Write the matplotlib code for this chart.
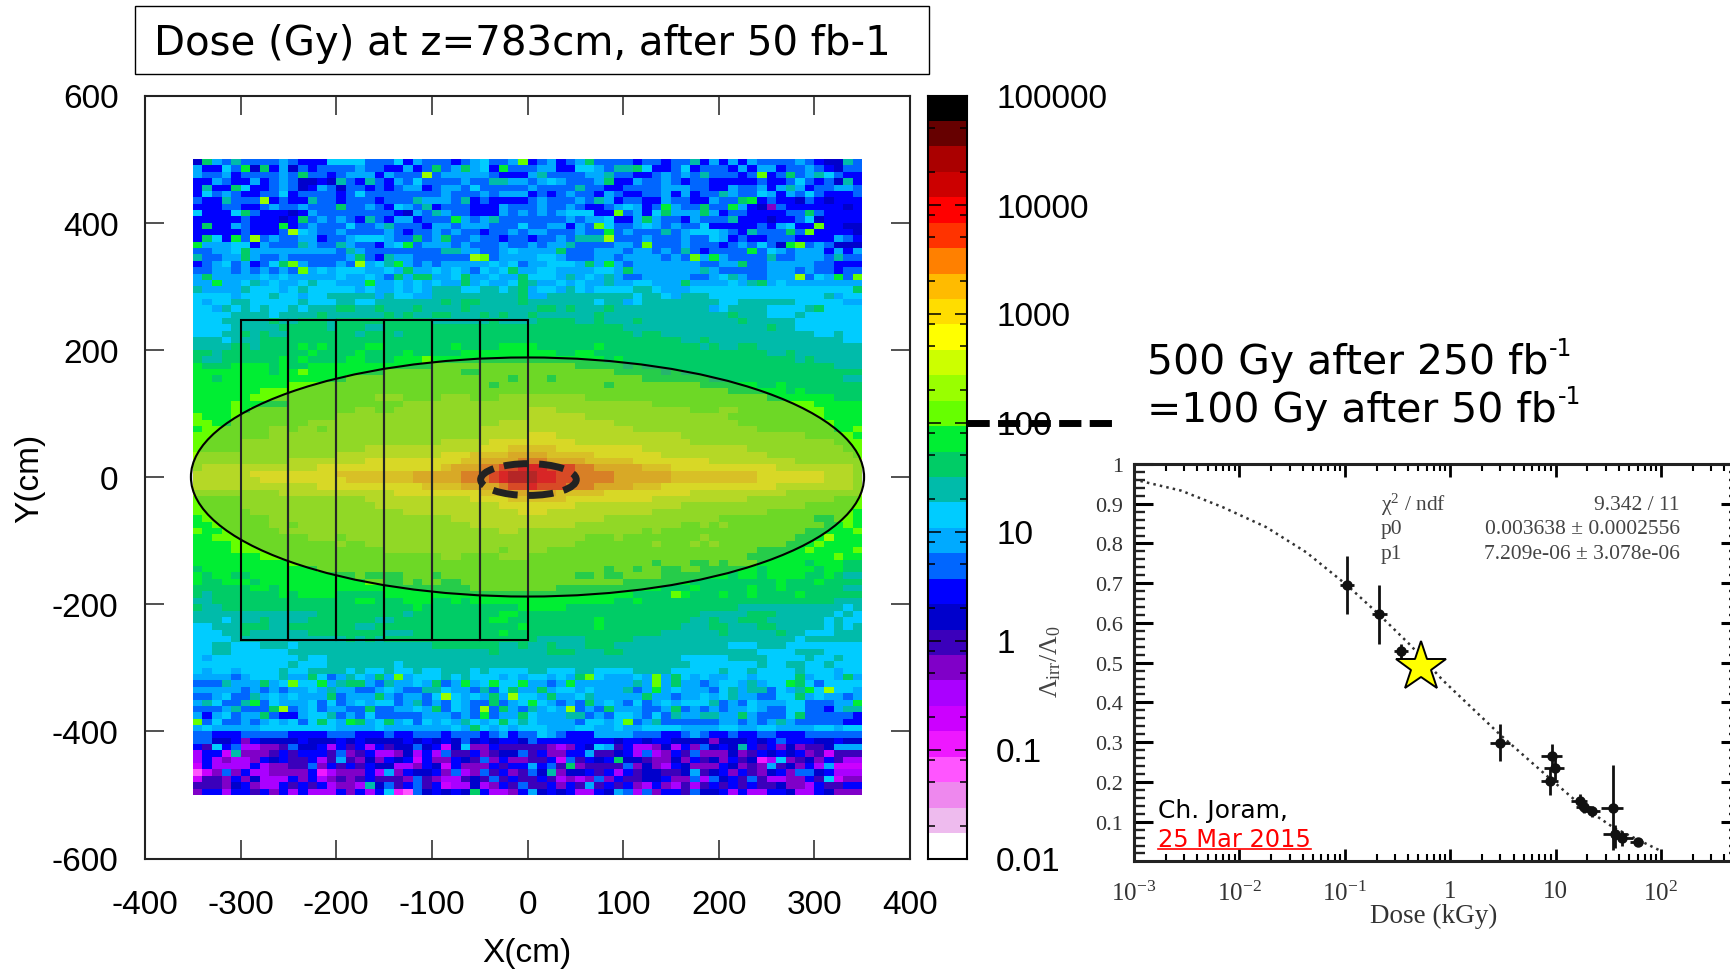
import numpy as np
import matplotlib
matplotlib.use('Agg')
import matplotlib.pyplot as plt
import matplotlib.ticker
from matplotlib.colors import ListedColormap, BoundaryNorm
from matplotlib.patches import Ellipse, Rectangle
from matplotlib.lines import Line2D

plt.rcParams['font.family'] = ['Liberation Sans', 'DejaVu Sans']
plt.rcParams['axes.unicode_minus'] = False

W, H = 1730, 970

# colour bands of the palette, lowest dose first
band_colors = ['#ffffff', '#eebbee', '#ee88ee', '#ff55ff', '#ee18ff', '#cc00ff', '#aa00ff', '#8000c8',
               '#3b00bb', '#0000cc', '#0000ff', '#0066ff', '#00aaff', '#00ccff', '#00bbaa', '#00cc66',
               '#00ee33', '#66ff00', '#99ff00', '#ccff00', '#ffff00', '#ffdd00', '#ffbb00', '#ff8000',
               '#ff3300', '#ff0000', '#cc0000', '#aa0000', '#660000', '#000000']
band_keys = '0123456789abcdefghijklmnopqrst'

# dose band of every 10x10 cm cell, top row first, x=-350..0 | x=0..350
dose_rows = [
 '9fcbebbbbcbaaaddddbbbdacbbbabcdbbch abcabcfbbbbabbabbeacacacbbbbcba99eb',
 'caadbg9fac9babbbbcbbaacabfbcfcdagbb bccaaddcbeefdaabdabbbacaccabbcba9bb',
 'cbbcabbbbcbfbbabcccacbbbibcccccbaaa cebbbbccebbaabcbcbebbbabhabfbcedbaa',
 'aacbaacabcb99a9ebaebacbdbbbbcbbeec bcdcbbbcfaacbbcbabbaaaaabaabdbab9ea',
 'aeaafdaabcb9acb9bbababccabccbdbbbb cbbbbebbaabbbbcccbbaacbbcacecabbccb',
 'adbcbaabbdabbbbabdbbbbbbbbcbbbcbcc ababcbbacbaabbcacabbecbbdcacbdbaaabi',
 'baaebbbiabaaebbabbbabbbecccbeabaaa bcbbbcbecabbaacbbaacbbfgabaa9ba9aaa',
 'aaabbaabcbbcbbbfbbcbadcbeabbbaaacbb bcbbcbaabcdcabgcbbfbbgca97baaaaaa9a',
 'daaadfbaaa9acbbbbbbbba9cbecbbaaacbc bcbcdddaahbcadfcccfcabbaaaabbfbaaa',
 'aaaaabaaa9afbcbcbaebaccabbbgcbcebb bbbbcbccdaacfcbbacbbbeaaa9aabd9aaa',
 'afaacbaaagabcbbbdbbcebbbaccbcccbbbd bbccacbhdbbcdcbcbbdaaaaabacdaahaa9',
 'aaaaabaaabidcbbcbbbbcbabbcbcbbabbcb ccbbbcbbgbcbbbebcdddcbaebbbfbhaaaa9',
 'afdagbibcbbccabbcdddcbbfbcfbbcbbabb abbcbeeeibbbcbbbcbbdcabaabbbaaaacba',
 'gcccddacbbbecbbecbbacdgbcccbcbbbcbbb cbccebbbbccbhbbbcbbbabcbdb9ghbcb9',
 'bbccdfcccccccccbecbbbbbbbbeeccbbcdc cccfbbbcccbccbcbebabbbbgbdcbcccacac',
 'ebbccfcbbcbbbbbbcfbaeccbbbbbbihbccc cddcbbbccbccccbcbhcgcbbbbebbcccbeb',
 'abcdbcabdfhcbbbcbicdegcbcbcccccdcdb ccdddcfcgcbcccccccbbccfbbcccccbbaa',
 'bbccbcbcbcbhcdcdddccdcfccdcdcbdcdfcc cddccccddcfcccccccecbbbbbcccbcbbab',
 'cfcccccdcdcccccdccdcbfcffccdfccdccf dddcecdcecbbcccccbbcdecbbcccibdcgbh',
 'ccgccdecdccdeddcccgccdcdcdccfcdccdf eccdcdcceccddcccfccccdcefcdccccccc',
 'eccccedddcdedddddcdccdcdceeeddeedef cddcedcddddeedcccdddddddddddddddddf',
 'ddddcdddeddcddeeeeeceddcceeeeeeeeef cceeeeeeeeedeedceeeddddddddddddecdd',
 'dcddeedddddedddeeddeeeeeeefeffeeeef eeeeeeedeecdeeeeeeeeddeeeeeedddddc',
 'ddcedededdedeeeffeefeeefeeeefeeeeee effefeeefeeeeeeeeeecdeeeeddddefddd',
 'ddddeeeedeeeefeeeeeefefeeffeeefefee feeeeeefeeeeeeeeeeeeefeeedddeddddd',
 'dddeeeeefeefffeffffffffffeeeeeefeee effffeefeeefeeeeeeeeeefeeeeedddddd',
 'ddddeeeeefffffefffeefffffffffffffff ffffffffffeeeeeeeeeeeeeeefeedddddd',
 'dddeefefeefffffffefffeffffffffffffff fffffffffffeffeeeeeeeeeeeeeeeedded',
 'eeedeeefffffffffffffffffffffffffffff ffffffffffffffffeefeeeeeeeeeeeeeed',
 'eeeeffeffffgfgffffggfffffffgffffggg gffffffgffffffffffefeeffeeeeeeeeeee',
 'ffefffffffffgffffgffffgfffffggggggg gggffggffffffffffffffffffeefeeeeeee',
 'feeffffffgfgffffggfffggghggggggggggg ggggggggfgffffffffffffffffffefeeee',
 'gfffggggfgffggggggggggggghhhhhhhhhhh hhhhhgggggfgffffffffffffffffffffee',
 'ggggggggfgghgggggggghhhhhhhhgghhhhhh hhhhhhhhhgggggfgffffffffffffffffff',
 'ggfggggggggggggghhhhhhhhhhhhhhhhhghh hhghhhhhhhhhgggggggffffffffffffffe',
 'gggggggggghhhhhhhhhhhhhhhhhhhhhghhhh hhhhhhhhghhhhhhhhhggggggffgfffffff',
 'ggggggghhhhhhhhhhhhhhhhhhhhhhhhhhhhh hhhhhhhhhhhhhhhhhhhhhggggggfgffff',
 'gggggghhhhhhhhhhhhhiiihhhhiiihhhiiii iiiiiihhhhhhhhhhhhhhhhhhhgggggggf',
 'gggghggggghhhhhhhhhhhhiiiiiiiiiiiii iiiiiiiiiiiiihhhhhhhhhhhhhhhhhggggg',
 'gggghghhhhhhhhhhhiihhiiiiiiiiiiiiii jjjiiiiiiiiiiiiiihhhiihhhhhhhhhgggg',
 'hggghhhhhhhhhhhiiiiiiiiiiiiiiiiiiii jjjjjjiiiiiiiiiiiiiiihhhhhhhhhhgggg',
 'hhgghhhhhhhhiiiiiiiiiiiiiiiiiiiijjj jjjjjjjjjiiiiiiiiiiiiihhhhhhhhhhggg',
 'ghhhhhhhiihiihiiiiiiiiiiiiiiiijjjjj jjjjjjjjjjjiiiiiiiiiiiiihhhhhhhhggh',
 'hhhhhhhhiiiiiiiiiiiiiiiiiiiiiijjjjj kkkjjjjjjjjjjjjjiiiiiiiiiiiiihhhhhg',
 'hhhhhiiiiiiiiiiiiiiiiiiiiijjjjjkkkk kkkkkjjjjjjjjjjjjiiiiiiiiiiiiiiihhh',
 'hhhhhiiiiiiiiiiiiijjjjjjjjjjjjkkkll lllkkkkkkkkkjjjjjjjjjjjiiiiiiiiiihh',
 'iiiiiiiiiiiiiiijjjjjjjjjjjkkkllllmm mmlllllkkkkkkkjjjjjjjjjjjiiiiiiiiih',
 'iiiiiiiiiijjjjjjjjkkkkkkkkkkllmmmmn nnmmmmlllllkkkkkkkkjjjjjjjjjiiiiiii',
 'ijjjjjjjjjjjjkkkkkkkkkkkkklmmmnnoop ppooonnmmmmmlllkkkkkkkkkkkjjjjjjjji',
 'jjjjjjkkkkkkkkkllllllllmmmmmnnnopqq qppoonnnnmmmmmmlllllllllkkkkkkkjjji',
 'jjjjjjjkkkkkkkkklllllllmmmmmnnnopqq qppoonnnnmmmmmmlllllllllkkkkkkkjjji',
 'jjjjjjjjjjjjjkkkkkkkkkkkllllmmmmnoo pooonnnmmmmlllkkkkkkkkkkkkjjjjjjjji',
 'iiiiiiiiijjjjjjjjjjjjkkkkkkkkklllmm mmmlllllkkkkkkkkkjjjjjjjjjjiiiiiiii',
 'hhhhhiiiiiiiiiiiiijjjjjjjjjjjkkkkll llllkkkkkkkkkjjjjjjjjjjiiiiiiiiihhh',
 'hhhhhiiiiiiiiiiiiiijjjjjjjjjjjjjkkk kkkkkjjjjjjjjjjjiiiiiiiiiiiiihhhhhh',
 'hhhhhhiiiiiiiiiiiiiiiijjjjjjjjjjjjk kkjjjjjjjjjjjiiiiiiiiiiiihhhhhhhhhg',
 'ghhhhhhhiiiiiiiiiiiiiiiiiiijjjjjjjj jjjjjjjjiiiiiiiiiiiihhhhhhhhhhgghhg',
 'gghhhhhhiihiiiiiiiiiiiiiiiiiijjjjjj jjjjjiiiiiiiiiiihhihihhhhhhhhhhgghg',
 'hgghhhhhhiiiiiiiiiiiiiiiiiiiiiiijji iiiiiiiiiiiihihhhhhhhhhhhhhhhgggggh',
 'gghhhhhhhhhhiiihiiiiiiiiiiiiiiiiiii iiiiiihhhihhhhhhhhihhhhhhhhhgggiggg',
 'gggghhhhhhhhhhhihhiiiiiiiiiiiiiiiii iiiiihhhhhhhhihhhihihhhhhhhggghgggg',
 'gggghhhhhhhhhhhhhhhhiiiiiiiiiiiihii iihhhhhhhhhhhhhhhhhhhhhhggggghggggh',
 'ggggggghhhhhhhhhhhhhhhhhhhiihhhhiii hhhhhhhhhhhhhhhhhhhhhhhggggggggghg',
 'gggggggggghhhhhhhhhhhhhhhhhhhhhhhhh hhhhhhhhhhhhhghhhgghghhhgggggfgggf',
 'fgggggggggggghhhhhhhhhhhhhhhhhhhhhh hhhhhhhhghhghhgghhggggggfgggggfggf',
 'gfggffggggggggggghgggghhhghhhhhhhhh hhhhhgghgghhhhgggggggfggfggggffgfe',
 'gffgggfggggggggggghhgghghhgghhhhhhh hhhhhhhhhhgggggggfffffffffgfffgfff',
 'ffffffggfgggggggggggggggggggghhhhhh hhhgggggggggggfffgfffffgffgffffffee',
 'fefffffffgfggggfffffgggggggggggggg gggggggggggffffhgfffgffgffffgffffffe',
 'eefffffffffffffffggfffgggffgfgggggg gggggggggffgffffffffffffffffffffeee',
 'feeffffffffffffffffffffgffffffffffg ggggffffffffffffffffffeeeeeeeeeeede',
 'eeeeeeeeeeeeefffffffffefffffffffggf ffffffffffffffffffeeeeefffeeeeeeded',
 'eeedeeefeeeefffffffeeffffffffffggff fffffffgfffffffffeefeefffeeeeeededd',
 'ddeeefffeefffffffeefffffffffffffffg fffffffgffffffffeeeffeeeffeeeeededee',
 'dddeefeeeeeeffffffffeeefffffffffgff ffffffffffffffeeeeeefeeeeefeedddeee',
 'ddddeeeeeeeeeeeefefefffffffffffffff feeeeefffffeeeeeeeeeeeeeeeeedeeeeee',
 'ddeedddeeedeeeeeeeeeeeeeefffffffeef eefeeefffeeeeeeeeeeeedddeeedddddddd',
 'ddeeddddddeeeeeeeeeeeeeeeeeeeeefeee eefffeeeffeeeeeeeeeeeeeeddddeeeddddd',
 'dcdddddddddeddeeeeeeeeeeeeeeeeeeeee eeeeeeeeeeeeeeeedddddeeeeddddeddedd',
 'ddddddddddedddeeeeeeedeeeeeeeeeeeee eeeeeeeeeeeeeeeeedddddddeddeeddedd',
 'dcddcddddeddeeeededdeddeddeeededddd eedddeeddddeeeedddddeddeddddedddcdde',
 'ccccbcdddeccfdbcedcfchcdddededddcdc ddcdcfhdcccdchcfdcdccddcddddfcddcfc',
 'bbbecccfcdhddgceffcbeccdcfbcgcdgddg ccbcgccccccechcfccbcddcecddgfdbddd',
 'cccccbcbcbccdceccbbcdcbbeedccbebdfc cfcddcdcccebcgcdcccbdeceebdcegdiddc',
 'bbcdbbecdcdcccfbcccfcbccbdidcdcfcid dcfccdecccccfccbccdcdeccbbddfcdccbc',
 'cedbbegbdcccdbdbcdcddbcebcbdcbbfbcd gdcbcbfcdcbdbcdcdddebcbdcccddbbbccg',
 'bbbcebbbfibcdbccbbfbbccdcfbdcbibfcb ecdcibcbfcccbbcfbcbcbccdcbbddbbace',
 'cacdbccfbaacddebcbdbbbbbcccbcbgbccf dccceebcbddcbdbecceeccfcbbbdfbbbbba',
 'hbdbbcbcdcdbdfdcgfcdfcdbdcdcedcdfde dccccbddcdhbcebbbbbbccbcbcecbbbbbaa',
 'cdcccccddddddddccccdcccccccdcfdcdcd ddcccddccdccddddccccddccddccccddcd',
 'bbaaabbbbbaaaabbbaaabaabbbabbbabcabb bdcbaaaccccbbbaabcbaabaabbaaabbbb',
 'bb99a7a9999a999a9a9999a9a9a9b9a9aa9 baaaaaaaa9aa9aa99997999a9abaaa99a9',
 'a8dab66778b99a6a8a6a899b9a59d77a8889 88767a9dc8a66796a7b9a9ea8a797889c',
 '6aa5e7778a8aaa8b78a66796a6b88a7899b8 8a77aac889a6b67a8b777978a9a9a7858',
 '6a67667a9a88a68c8797a9a5a77a98b7a77a 88a5b8a9af9987797a897a8946d7897a86',
 '5a6666a67788b7a8a8a99667a95a777a8aa6 cab8f78888b7976a9777a9787c897a6c5',
 '357b7a667777a46777a6c7a99a7b67b8a78 b9e799a8a6a899889c89a7a879a7bb9a66',
 '5887a79666a7a67878a8887b8766898b8a8 8a86767b7a8899a77b6b9a8b86677a8d57',
 '88879a766a8a8a6776e9b8ab8a566967a8b 88a7a8c8a8a76a76868a8a8a889776a88a',
 '7aa6aa8a7a6a666a7a6ad43b9a9a9fa667a c9a9a66a9cb6b7aa8b99a6a66aa966a9777',
]

# points, dose in kGy
dose_pts = [0.105, 0.21, 0.34, 2.99, 9.3, 9.8, 8.8, 17, 18.5, 22, 35, 37, 43, 60]
ratio_pts = [0.695, 0.622, 0.529, 0.299, 0.264, 0.236, 0.203, 0.151, 0.136, 0.126, 0.134, 0.069, 0.059, 0.050]
ratio_lo = [0.072, 0.074, 0.018, 0.046, 0.030, 0.030, 0.036, 0.018, 0.014, 0.014, 0.105, 0.036, 0.020, 0.008]
ratio_hi = [0.073, 0.073, 0.017, 0.048, 0.031, 0.028, 0.031, 0.018, 0.014, 0.014, 0.109, 0.023, 0.017, 0.008]
dose_lo = [0.014, 0.03, 0.05, 0.6, 2.0, 2.0, 1.6, 3.0, 3.0, 4.0, 8.0, 9.0, 9.0, 9.0]
dose_hi = [0.017, 0.04, 0.06, 0.7, 2.3, 2.2, 1.8, 3.0, 3.0, 4.5, 9.0, 11.0, 11.0, 7.0]
fit_dose = [0.001, 0.0028, 0.007, 0.018, 0.043, 0.105, 0.21, 0.42, 0.85, 3.0, 8.8, 18, 36, 95]
fit_ratio = [0.961, 0.933, 0.891, 0.841, 0.778, 0.695, 0.622, 0.544, 0.456, 0.318, 0.209, 0.138, 0.084, 0.029]

x_ticks = [-400, -300, -200, -100, 0, 100, 200, 300, 400]
y_ticks = [-600, -400, -200, 0, 200, 400, 600]
bar_ticks = [0.01, 0.1, 1, 10, 100, 1000, 10000, 100000]
bar_labels = ['0.01', '0.1', '1', '10', '100', '1000', '10000', '100000']
inset_y_ticks = [0.1, 0.2, 0.3, 0.4, 0.5, 0.6, 0.7, 0.8, 0.9, 1]


def px_axes(left, top, right, bottom):
	return fig.add_axes([left/W, 1-bottom/H, (right-left)/W, (bottom-top)/H])


def row_cells(row):
	# each half holds 35 cells
	left, right = row.split()
	left = left.ljust(35, left[-1])[:35]
	right = right.ljust(35, right[-1])[:35]
	return [band_keys.index(c) for c in left+right]


# text with a small raised -1 right after it
def text_with_power(x, y, s):
	t = fig.text(x/W, 1-y/H, s, family='DejaVu Sans', fontsize=29.4, va='center')
	ax.annotate('-1', xy=(1.002, 0.55), xycoords=t, family='DejaVu Sans', fontsize=17, va='bottom',
		annotation_clip=False)


fig = plt.figure(figsize=(W/100, H/100), dpi=100)

edges = np.logspace(-2, 5, 31)
cmap = ListedColormap(band_colors)
norm = BoundaryNorm(edges, cmap.N)
mids = np.sqrt(edges[:-1]*edges[1:])
dose = mids[np.array([row_cells(r) for r in dose_rows])][::-1]

# main map
ax = px_axes(145, 96.5, 910, 859.5)
xe = np.arange(-350, 351, 10)
ye = np.arange(-500, 501, 10)
ax.pcolormesh(xe, ye, dose, cmap=cmap, norm=norm, zorder=1)
for x0 in range(-300, 0, 50):
	ax.add_patch(Rectangle((x0, -256), 50, 503, fill=False, ec='black', lw=1.5, zorder=2))
ax.add_patch(Ellipse((0, 0), 704, 376, fc='#808080', ec='none', alpha=0.3, zorder=3))
ax.add_patch(Ellipse((0, 0), 704, 376, fill=False, ec='black', lw=1.5, zorder=4))
ax.add_patch(Ellipse((1, -4), 100, 50, fill=False, ec='#222222', lw=5, ls=(0, (3.6, 1.5)), zorder=5))
ax.set_xlim(-400, 400)
ax.set_ylim(-600, 600)
ax.set_xticks(x_ticks)
ax.set_yticks(y_ticks)
ax.set_xticklabels([str(v) for v in x_ticks])
ax.set_yticklabels([str(v) for v in y_ticks])
ax.tick_params(axis='both', direction='in', length=13.7, width=1.1, top=True, right=True, labelsize=24, color='#222222')
ax.tick_params(axis='x', pad=22)
ax.tick_params(axis='y', pad=19)
for s in ax.spines.values():
	s.set_linewidth(1.5)
	s.set_color('#222222')
fig.text(527/W, 1-954/H, 'X(cm)', fontsize=24, ha='center', va='center')
fig.text(30/W, 1-478/H, 'Y(cm)', fontsize=24, ha='center', va='center', rotation=90)

# colour scale
cax = px_axes(928, 96.5, 967, 859.5)
cax.pcolormesh([0, 1], edges, np.array(mids).reshape(-1, 1), cmap=cmap, norm=norm)
cax.set_yscale('log')
cax.set_ylim(0.01, 100000)
cax.set_xlim(0, 1)
cax.set_xticks([])
cax.set_yticks(bar_ticks)
cax.set_yticklabels(bar_labels)
cax.yaxis.set_minor_locator(matplotlib.ticker.LogLocator(base=10, subs=[2, 5, 8], numticks=12))
cax.yaxis.set_minor_formatter(matplotlib.ticker.NullFormatter())
cax.tick_params(axis='y', which='major', direction='in', length=9, width=1.1, left=True, right=True,
	labelleft=False, labelright=True, labelsize=24, pad=21)
cax.tick_params(axis='y', which='minor', direction='in', length=5, width=1.1, left=True, right=True)
for s in cax.spines.values():
	s.set_linewidth(1.5)

# inset, its right edge runs off the page
iax = px_axes(1134, 465, 1740, 862)
iax.set_xscale('log')
iax.set_xlim(0.001, 10**2.75)
iax.set_ylim(0.001, 1)
iax.plot(fit_dose, fit_ratio, ls=':', lw=1.8, color='#333333')
iax.errorbar(dose_pts, ratio_pts, yerr=[ratio_lo, ratio_hi], xerr=[dose_lo, dose_hi], fmt='o', ms=6.5,
	color='#111111', elinewidth=2, capsize=0)
iax.plot([0.53], [0.49], marker='*', ms=38, mfc='#ffff00', mec='black', mew=1.4, ls='none', zorder=6)
iax.set_yticks(inset_y_ticks)
iax.set_yticklabels(['0.1', '0.2', '0.3', '0.4', '0.5', '0.6', '0.7', '0.8', '0.9', '1'],
	family='Liberation Serif', fontsize=16, color='#333333')
iax.yaxis.set_minor_locator(matplotlib.ticker.MultipleLocator(0.02))
iax.set_xticks([0.001, 0.01, 0.1, 1, 10, 100])
iax.set_xticklabels([r'$\mathregular{10^{-3}}$', r'$\mathregular{10^{-2}}$', r'$\mathregular{10^{-1}}$', '1', '10',
	r'$\mathregular{10^{2}}$'], family='Liberation Serif', fontsize=18, color='#333333')
iax.xaxis.set_minor_locator(matplotlib.ticker.LogLocator(base=10, subs=np.arange(2, 10), numticks=12))
iax.xaxis.set_minor_formatter(matplotlib.ticker.NullFormatter())
iax.tick_params(axis='x', which='major', direction='in', length=9, width=2, top=True, pad=14)
iax.tick_params(axis='x', which='minor', direction='in', length=5, width=1.5, top=True)
iax.tick_params(axis='y', which='major', direction='in', length=14, width=2.2, right=True, pad=8)
iax.tick_params(axis='y', which='minor', direction='in', length=8, width=1.7, left=True, right=True, color='#222222')
for s in iax.spines.values():
	s.set_linewidth(2.2)
	s.set_color('#222222')

serif = dict(family='Liberation Serif', fontsize=15.5, color='#444444', va='center')
fig.text(1381/W, 1-505/H, r'$\mathregular{\chi^{2}}$ / ndf', ha='left', **serif)
fig.text(1381/W, 1-530/H, 'p0', ha='left', **serif)
fig.text(1381/W, 1-555/H, 'p1', ha='left', **serif)
fig.text(1680/W, 1-505/H, '9.342 / 11', ha='right', **serif)
fig.text(1680/W, 1-530/H, '0.003638 \u00b1 0.0002556', ha='right', **serif)
fig.text(1680/W, 1-555/H, '7.209e-06 \u00b1 3.078e-06', ha='right', **serif)
fig.text(1434/W, 1-916/H, 'Dose (kGy)', family='Liberation Serif', fontsize=19.5, color='#333333', ha='center', va='center')
fig.text(1051/W, 1-662/H, r'$\mathregular{\Lambda_{irr}/\Lambda_{0}}$', family='Liberation Serif', fontsize=18.5,
	color='#444444', ha='center', va='center', rotation=90)

# credit over the inset
fig.text(1158/W, 1-811/H, 'Ch. Joram,', family='DejaVu Sans', fontsize=18, color='black', va='center', zorder=10)
fig.text(1158/W, 1-840/H, '25 Mar 2015', family='DejaVu Sans', fontsize=17.4, color='#ff0000', va='center', zorder=10)
fig.add_artist(Line2D([1158/W, 1311/W], [1-850/H, 1-850/H], color='#ff0000', lw=1.2, zorder=10))

# title box
fig.add_artist(Rectangle((134.5/W, 1-75/H), 794.5/W, 68.5/H, fill=False, ec='black', lw=1, transform=fig.transFigure))
fig.text(154.5/W, 1-44/H, 'Dose (Gy) at z=783cm, after 50 fb-1', family='DejaVu Sans', fontsize=29, va='center')

# annotation of the 100 Gy level
text_with_power(1147, 363, '500 Gy after 250 fb')
text_with_power(1147, 411, '=100 Gy after 50 fb')
fig.add_artist(Line2D([967/W, 1112/W], [1-424/H, 1-424/H], color='black', lw=5, ls=(0, (3.2, 1.2)), zorder=10))

fig.savefig('out.png', dpi=100)
